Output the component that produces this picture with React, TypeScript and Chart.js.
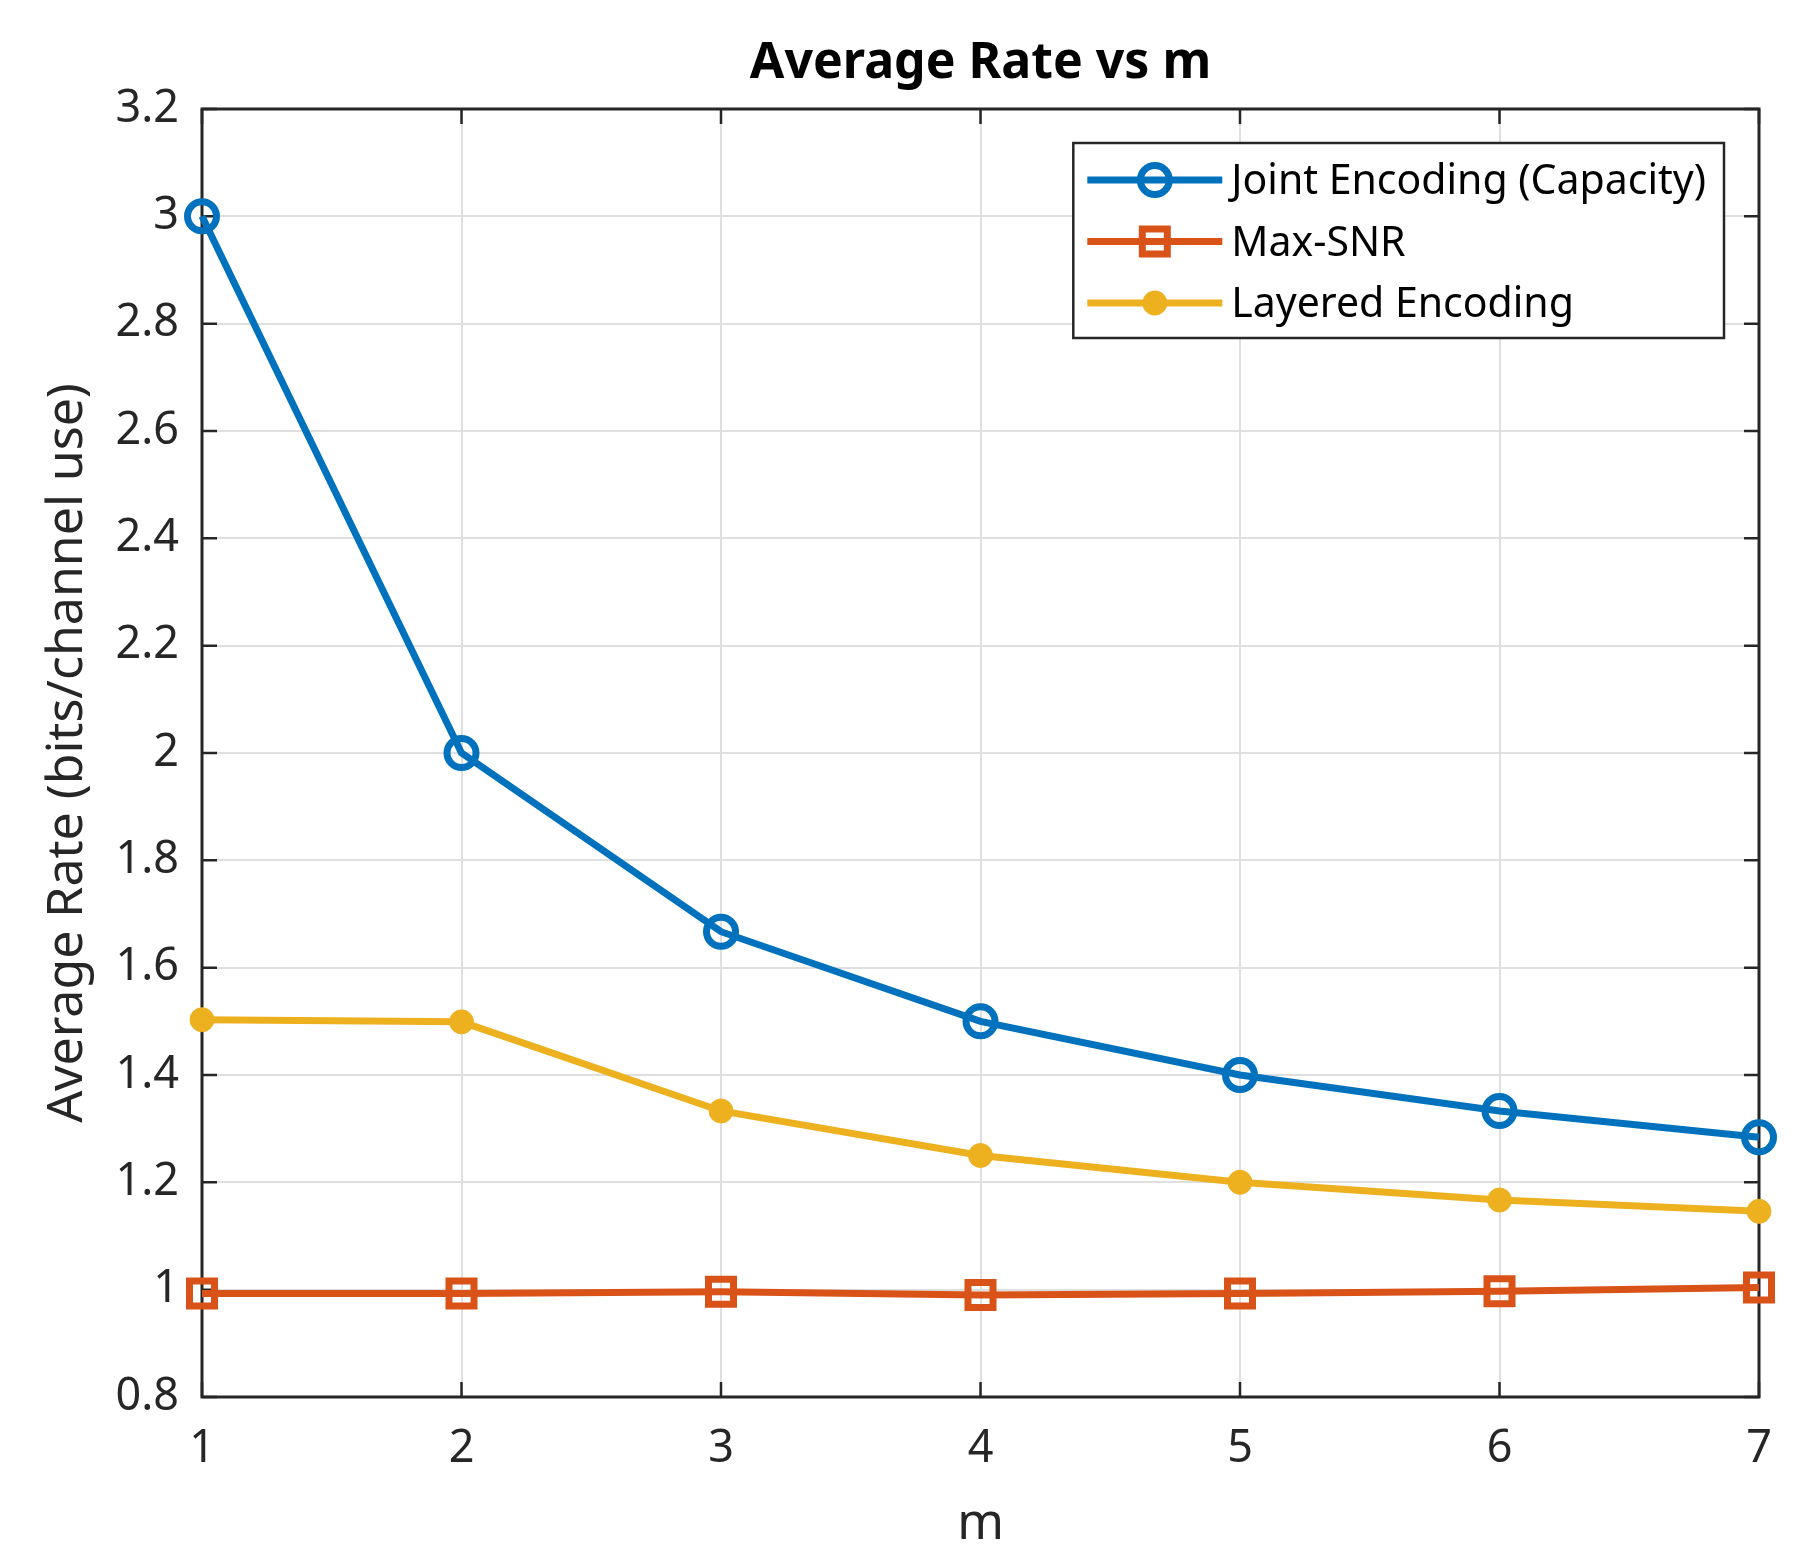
import { useEffect, useRef } from "react";
import { Chart, registerables } from "chart.js";

Chart.register(...registerables);

// ---- data ----
const mValues = [1, 2, 3, 4, 5, 6, 7];
const jointEncoding = [3.0, 2.0, 1.667, 1.5, 1.4, 1.333, 1.284];
const maxSnr = [0.993, 0.993, 0.996, 0.99, 0.993, 0.997, 1.004];
const layeredEncoding = [1.503, 1.499, 1.333, 1.25, 1.2, 1.167, 1.146];
const seriesLabels = ["Joint Encoding (Capacity)", "Max-SNR", "Layered Encoding"];
const xTicks = [1, 2, 3, 4, 5, 6, 7];
const yTicks = [0.8, 1, 1.2, 1.4, 1.6, 1.8, 2, 2.2, 2.4, 2.6, 2.8, 3, 3.2];
const yTickLabels = ["0.8", "1", "1.2", "1.4", "1.6", "1.8", "2", "2.2", "2.4", "2.6", "2.8", "3", "3.2"];
const chartTitle = "Average Rate vs m";
const xTitle = "m";
const yTitle = "Average Rate (bits/channel use)";

const BLUE = "#0072BD";
const ORANGE = "#D95319";
const YELLOW = "#EDB120";
const AX = "#262626";
const FONT = "'Noto Sans', 'DejaVu Sans', sans-serif";

const toPoints = (ys: number[]) => mValues.map((m, i) => ({ x: m, y: ys[i] }));

type Marker = "circle" | "rect" | "dot";
const legendItems: { label: string; color: string; marker: Marker }[] = [
  { label: seriesLabels[0], color: BLUE, marker: "circle" },
  { label: seriesLabels[1], color: ORANGE, marker: "rect" },
  { label: seriesLabels[2], color: YELLOW, marker: "dot" },
];

function drawMarker(ctx: CanvasRenderingContext2D, kind: Marker, x: number, y: number, color: string) {
  ctx.save();
  ctx.strokeStyle = color;
  ctx.fillStyle = color;
  if (kind === "circle") {
    ctx.lineWidth = 7;
    ctx.beginPath();
    ctx.arc(x, y, 14.5, 0, Math.PI * 2);
    ctx.stroke();
  } else if (kind === "rect") {
    ctx.lineWidth = 7;
    ctx.strokeRect(x - 12.5, y - 12.5, 25, 25);
  } else {
    ctx.beginPath();
    ctx.arc(x, y, 12.5, 0, Math.PI * 2);
    ctx.fill();
  }
  ctx.restore();
}

const decorPlugin = {
  id: "matlabDecor",
  beforeDatasetsDraw(chart: any) {
    const { ctx, chartArea, scales } = chart;
    const { left, right, top, bottom } = chartArea;
    const TL = 15;
    ctx.save();
    ctx.strokeStyle = AX;
    ctx.lineWidth = 2.5;
    ctx.beginPath();
    for (const v of xTicks) {
      const px = scales.x.getPixelForValue(v);
      ctx.moveTo(px, bottom);
      ctx.lineTo(px, bottom - TL);
      ctx.moveTo(px, top);
      ctx.lineTo(px, top + TL);
    }
    for (const v of yTicks) {
      const py = scales.y.getPixelForValue(v);
      ctx.moveTo(left, py);
      ctx.lineTo(left + TL, py);
      ctx.moveTo(right, py);
      ctx.lineTo(right - TL, py);
    }
    ctx.stroke();
    ctx.lineWidth = 3;
    ctx.strokeRect(left, top, right - left, bottom - top);
    ctx.restore();
  },
  afterDatasetsDraw(chart: any) {
    const { ctx, chartArea } = chart;
    const { left, right, top } = chartArea;
    ctx.save();
    // title
    ctx.fillStyle = "#000000";
    ctx.font = `bold 50px ${FONT}`;
    ctx.textAlign = "center";
    ctx.textBaseline = "alphabetic";
    ctx.fillText(chartTitle, (left + right) / 2, top - 31);

    // legend
    ctx.font = `41px ${FONT}`;
    const textW = Math.max(...legendItems.map((it) => ctx.measureText(it.label).width));
    const boxRight = right - 35;
    const boxW = 14 + 135 + 9 + textW + 18;
    const boxLeft = boxRight - boxW;
    const boxTop = top + 34;
    const boxBottom = top + 229;
    ctx.fillStyle = "#ffffff";
    ctx.fillRect(boxLeft, boxTop, boxW, boxBottom - boxTop);
    ctx.strokeStyle = AX;
    ctx.lineWidth = 2.5;
    ctx.strokeRect(boxLeft, boxTop, boxW, boxBottom - boxTop);
    legendItems.forEach((it, i) => {
      const cy = top + 71 + i * 61.5;
      const sx0 = boxLeft + 14;
      const sx1 = sx0 + 135;
      ctx.strokeStyle = it.color;
      ctx.lineWidth = 7;
      ctx.beginPath();
      ctx.moveTo(sx0, cy);
      ctx.lineTo(sx1, cy);
      ctx.stroke();
      drawMarker(ctx, it.marker, (sx0 + sx1) / 2, cy, it.color);
      ctx.fillStyle = "#000000";
      ctx.textAlign = "left";
      ctx.textBaseline = "alphabetic";
      ctx.fillText(it.label, sx1 + 9, cy + 14);
    });
    ctx.restore();
  },
};

export default function App() {
  const canvasRef = useRef<HTMLCanvasElement | null>(null);

  useEffect(() => {
    const canvas = canvasRef.current;
    if (!canvas) return;
    Chart.defaults.font.family = FONT;
    const chart = new Chart(canvas, {
      type: "line",
      data: {
        datasets: [
          {
            label: seriesLabels[0],
            data: toPoints(jointEncoding),
            borderColor: BLUE,
            backgroundColor: "rgba(0,0,0,0)",
            borderWidth: 7,
            pointStyle: "circle",
            pointRadius: 14.5,
            pointBorderWidth: 7,
            pointBorderColor: BLUE,
            pointBackgroundColor: "rgba(0,0,0,0)",
            pointHoverRadius: 14.5,
            clip: false,
            order: 3,
          },
          {
            label: seriesLabels[1],
            data: toPoints(maxSnr),
            borderColor: ORANGE,
            backgroundColor: "rgba(0,0,0,0)",
            borderWidth: 7,
            pointStyle: "rect",
            pointRadius: 17.7,
            pointBorderWidth: 7,
            pointBorderColor: ORANGE,
            pointBackgroundColor: "rgba(0,0,0,0)",
            pointHoverRadius: 17.7,
            clip: false,
            order: 2,
          },
          {
            label: seriesLabels[2],
            data: toPoints(layeredEncoding),
            borderColor: YELLOW,
            backgroundColor: YELLOW,
            borderWidth: 7,
            pointStyle: "circle",
            pointRadius: 12,
            pointBorderWidth: 1,
            pointBorderColor: YELLOW,
            pointBackgroundColor: YELLOW,
            pointHoverRadius: 12,
            clip: false,
            order: 1,
          },
        ],
      },
      options: {
        animation: false,
        responsive: false,
        devicePixelRatio: 1,
        events: [],
        layout: { padding: { top: 109, right: 52, bottom: 0, left: 0 } },
        plugins: {
          legend: { display: false },
          title: { display: false },
          tooltip: { enabled: false },
        },
        scales: {
          x: {
            type: "linear",
            min: 1,
            max: 7,
            afterFit: (s: any) => {
              s.height = 150;
            },
            afterBuildTicks: (s: any) => {
              s.ticks = xTicks.map((v) => ({ value: v }));
            },
            ticks: {
              color: AX,
              font: { size: 45, family: FONT },
              padding: 25,
              maxRotation: 0,
              callback: (v: any) => String(v),
            },
            grid: { color: "#dfdfdf", lineWidth: 2, drawTicks: false },
            border: { display: false },
            title: {
              display: true,
              text: xTitle,
              color: AX,
              font: { size: 50, family: FONT },
              padding: { top: 0, bottom: -8 },
            },
          },
          y: {
            type: "linear",
            min: 0.8,
            max: 3.2,
            afterFit: (s: any) => {
              s.width = 202;
            },
            afterBuildTicks: (s: any) => {
              s.ticks = yTicks.map((v) => ({ value: v }));
            },
            ticks: {
              color: AX,
              font: { size: 45, family: FONT },
              padding: 23,
              callback: (v: any) => {
                const idx = yTicks.findIndex((t) => Math.abs(t - Number(v)) < 1e-6);
                return idx >= 0 ? yTickLabels[idx] : "";
              },
            },
            grid: { color: "#dfdfdf", lineWidth: 2, drawTicks: false },
            border: { display: false },
            title: {
              display: true,
              text: yTitle,
              color: AX,
              font: { size: 50, family: FONT },
              padding: { top: 38, bottom: 0 },
            },
          },
        },
      },
      plugins: [decorPlugin],
    } as any);
    return () => chart.destroy();
  }, []);

  return (
    <div style={{ position: "absolute", left: 0, top: 0, width: 1811, height: 1547, background: "#ffffff" }}>
      <canvas ref={canvasRef} width={1811} height={1547} style={{ display: "block", width: 1811, height: 1547 }} />
    </div>
  );
}
